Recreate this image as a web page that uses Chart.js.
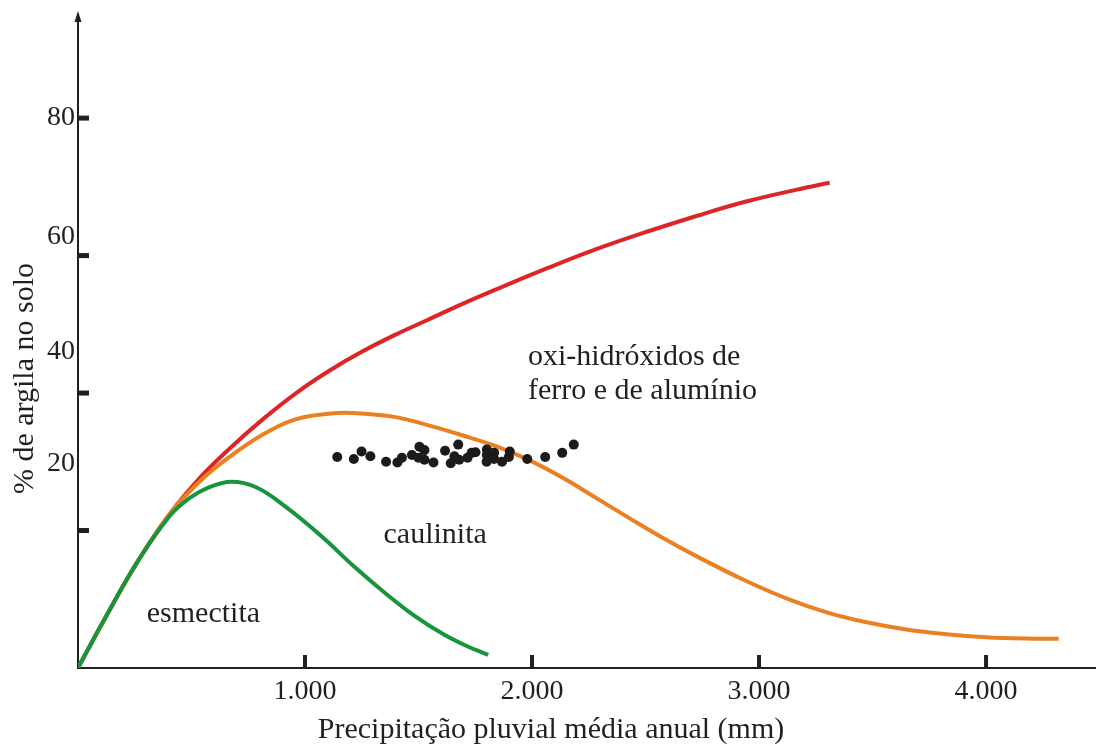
<!DOCTYPE html>
<html>
<head>
<meta charset="utf-8">
<title>Argila no solo x precipitação</title>
<script src="https://cdn.jsdelivr.net/npm/chart.js@4.4.1/dist/chart.umd.min.js"></script>
<style>
  html, body { margin: 0; padding: 0; background: #fff; }
  canvas { display: block; }
</style>
</head>
<body>
<canvas id="chart" width="1100" height="746"></canvas>
<script>
// Axis ranges (mm / %)
const xMax = 4480;
const yMax = 95;

// Tick marks and their labels
const xTicks = [1000, 2000, 3000, 4000];
const xTickLabels = ['1.000', '2.000', '3.000', '4.000'];
const yTicks = [20, 40, 60, 80];
const yTickLabels = ['20', '40', '60', '80'];
const yLabelAt = [29.8, 46.0, 62.8, 80];   // where the printed numbers sit on the axis

// Curves: precipitation (mm) / % clay
const oxidesX = [0, 110, 259, 404, 535, 667, 811, 961, 1105, 1250, 1399, 1544, 1689, 1851, 2070, 2289, 2509, 2728, 2947, 3167, 3311];
const oxidesY = [0, 6.7, 15.3, 22.4, 27.6, 31.9, 36.1, 40.0, 43.2, 46.0, 48.5, 50.7, 52.9, 55.2, 58.2, 61.0, 63.5, 65.8, 67.9, 69.6, 70.6];

const kaoliniteX = [0, 110, 259, 404, 535, 667, 811, 961, 1105, 1206, 1399, 1544, 1689, 1838, 1996, 2145, 2289, 2434, 2583, 2728, 2934, 3123, 3298, 3474, 3649, 3825, 4000, 4175, 4320];
const kaoliniteY = [0, 6.7, 15.3, 22.4, 27.1, 30.7, 33.9, 36.2, 37.0, 37.1, 36.5, 35.3, 33.9, 32.3, 30.1, 27.5, 24.6, 21.7, 18.8, 16.2, 12.8, 10.1, 8.1, 6.65, 5.6, 4.92, 4.48, 4.28, 4.25];

const smectiteX = [0, 110, 259, 404, 491, 579, 675, 785, 917, 1075, 1215, 1346, 1478, 1610, 1719, 1807];
const smectiteY = [0, 6.7, 15.3, 22.1, 24.7, 26.3, 27.1, 26.3, 23.4, 19.1, 14.8, 11.1, 7.7, 4.9, 3.1, 1.9];

// Sample points
const samplesX = [1142, 1215, 1249, 1288, 1357, 1407, 1427, 1471, 1504, 1526, 1500, 1526, 1566, 1617, 1658, 1642, 1675, 1679, 1716, 1734, 1751, 1801, 1833, 1800, 1833, 1868, 1902, 1898, 1979, 2058, 2133, 2184, 1801];
const samplesY = [30.7, 30.4, 31.5, 30.8, 30.0, 29.9, 30.6, 31.0, 32.2, 31.7, 30.6, 30.3, 29.9, 31.6, 30.8, 29.8, 32.5, 30.3, 30.6, 31.3, 31.4, 31.8, 31.3, 30.0, 30.4, 30.0, 31.5, 30.7, 30.4, 30.7, 31.3, 32.5, 31.0];

// Region labels (text, x, y at baseline)
const regionText = ['oxi-hidróxidos de', 'ferro e de alumínio', 'caulinita', 'esmectita'];
const regionX = [1982, 1982, 1346, 303];
const regionY = [44.1, 39.1, 18.2, 6.7];

const xTitle = 'Precipitação pluvial média anual (mm)';
const yTitle = '% de argila no solo';

const INK = '#231f20';
const SERIF = '"Liberation Serif", "DejaVu Serif", serif';

const toPoints = (xs, ys) => xs.map((x, i) => ({ x: x, y: ys[i] }));

const curve = (data, color, order) => ({
    data: data,
    showLine: true,
    borderColor: color,
    borderWidth: 4,
    pointRadius: 0,
    tension: 0.4,
    order: order
});

// Tick marks drawn inside the plot, axis arrow, titles and region labels
const decorations = {
    id: 'decorations',
    afterDraw(chart) {
        const { ctx, chartArea, scales } = chart;
        const x = scales.x, y = scales.y;
        ctx.save();
        ctx.fillStyle = INK;

        xTicks.forEach(v => {
            const px = x.getPixelForValue(v);
            ctx.fillRect(px - 2, chartArea.bottom - 13, 4, 13);
        });
        yTicks.forEach(v => {
            const py = y.getPixelForValue(v);
            ctx.fillRect(chartArea.left, py - 2.5, 11, 5);
        });

        // arrow on top of the vertical axis
        ctx.beginPath();
        ctx.moveTo(chartArea.left, chartArea.top - 4);
        ctx.lineTo(chartArea.left - 3.5, chartArea.top + 7);
        ctx.lineTo(chartArea.left + 3.5, chartArea.top + 7);
        ctx.closePath();
        ctx.fill();

        ctx.font = '30px ' + SERIF;
        ctx.textBaseline = 'alphabetic';
        ctx.textAlign = 'left';
        regionText.forEach((t, i) => {
            ctx.fillText(t, x.getPixelForValue(regionX[i]), y.getPixelForValue(regionY[i]));
        });

        ctx.textAlign = 'center';
        ctx.textBaseline = 'middle';
        ctx.fillText(xTitle, chartArea.left + 473, chartArea.bottom + 62);

        ctx.translate(chartArea.left - 53, (chartArea.top + chartArea.bottom) / 2 + 37);
        ctx.rotate(-Math.PI / 2);
        ctx.fillText(yTitle, 0, 0);
        ctx.restore();
    }
};

new Chart(document.getElementById('chart'), {
    type: 'scatter',
    data: {
        datasets: [
            {
                data: toPoints(samplesX, samplesY),
                pointRadius: 5,
                pointBackgroundColor: '#1c1a1b',
                pointBorderWidth: 0,
                order: 0
            },
            curve(toPoints(smectiteX, smectiteY), '#17953d', 1),
            curve(toPoints(kaoliniteX, kaoliniteY), '#ea8020', 2),
            curve(toPoints(oxidesX, oxidesY), '#dc2626', 3)
        ]
    },
    options: {
        responsive: false,
        animation: false,
        layout: { padding: { top: 15, right: 0, left: 0, bottom: 0 } },
        plugins: {
            legend: { display: false },
            tooltip: { enabled: false }
        },
        scales: {
            x: {
                type: 'linear',
                min: 0,
                max: xMax,
                grid: { display: false, drawTicks: false },
                border: { display: true, color: INK, width: 2 },
                afterBuildTicks: (scale) => { scale.ticks = xTicks.map(v => ({ value: v })); },
                afterFit: (scale) => { scale.height = 78; scale.paddingLeft = 0; scale.paddingRight = 0; },
                ticks: {
                    autoSkip: false,
                    maxRotation: 0,
                    padding: 7,
                    color: INK,
                    font: { family: SERIF, size: 28 },
                    callback: (v, i) => xTickLabels[i]
                }
            },
            y: {
                type: 'linear',
                min: 0,
                max: yMax,
                grid: { display: false, drawTicks: false },
                border: { display: true, color: INK, width: 2 },
                afterBuildTicks: (scale) => { scale.ticks = yLabelAt.map(v => ({ value: v })); },
                afterFit: (scale) => { scale.width = 78; scale.paddingTop = 0; scale.paddingBottom = 0; },
                ticks: {
                    autoSkip: false,
                    padding: 3,
                    color: INK,
                    font: { family: SERIF, size: 28 },
                    callback: (v, i) => yTickLabels[i]
                }
            }
        }
    },
    plugins: [decorations]
});
</script>
</body>
</html>
